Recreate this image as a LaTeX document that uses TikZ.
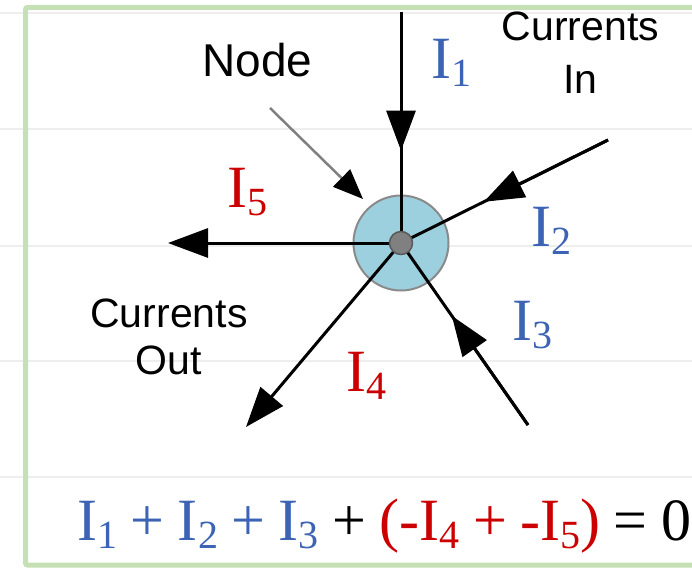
\documentclass[tikz,border=0pt]{standalone}
\usepackage{fontspec}
\setmainfont{Liberation Serif}
\newfontfamily\lsans{Liberation Sans}
\usetikzlibrary{arrows.meta,calc}
\definecolor{curblue}{HTML}{3D64B4}
\definecolor{curred}{HTML}{CC0000}
\definecolor{framegreen}{HTML}{C5E0B4}
\definecolor{gridgray}{HTML}{EEEEEE}
\definecolor{nodeblue}{HTML}{9DD0DE}
\definecolor{ringgray}{HTML}{8A8A8A}
\definecolor{dotgray}{HTML}{808080}
\newcommand\Isub[1]{I\raisebox{-8pt}{\fontsize{40}{40}\selectfont #1}}
\newcommand\eqgap{\hspace{13.5pt}}
\tikzset{
  curlbl/.style={font=\fontsize{60}{60}\selectfont, inner sep=0pt, anchor=base west},
  sanslbl/.style={font=\lsans\fontsize{41}{52}\selectfont, inner sep=0pt, align=center, anchor=base},
  wire/.style={line width=3pt, black},
  headtip/.style={-{Triangle[length=40pt,width=29pt]}},
  eqtext/.style={font=\fontsize{60}{60}\selectfont, inner sep=0pt, anchor=base west}
}
\begin{document}
\begin{tikzpicture}[x=1pt,y=-1pt]
\useasboundingbox (0,0) rectangle (692,567);
% faint background rules
\foreach \yy in {13,129,246,361,477} \draw[gridgray, line width=2pt] (0,\yy) -- (692,\yy);
% green frame (right side outside the picture)
\draw[framegreen, line width=5pt, rounded corners=2pt] (720,7.5) -- (25.5,7.5) -- (25.5,565) -- (720,565);

\coordinate (c) at (401,243);
\coordinate (s1) at (401,12);
\coordinate (s2) at (608,140);
\coordinate (s3) at (528,425);
\coordinate (e4) at (246,427);
\coordinate (e5) at (168,243);
\coordinate (np) at (270,108);
\coordinate (npt) at (363,199);

% node disc
\node[circle, draw=ringgray, line width=2pt, fill=nodeblue, minimum size=95pt, inner sep=0pt] (ring) at (c) {};

% currents in
\draw[wire] (s1) -- (c);
\draw[wire, headtip] (s1) -- ($(s1)!0.6!(c)$);
\draw[wire] (s2) -- (c);
\draw[wire, headtip] (s2) -- ($(s2)!0.6!(c)$);
\draw[wire] (s3) -- (c);
\draw[wire, headtip] (s3) -- ($(s3)!0.6!(c)$);
% currents out
\draw[wire, headtip] (c) -- (e4);
\draw[wire, headtip] (c) -- (e5);

% centre dot
\node[circle, fill=dotgray, draw=black!65, line width=1.5pt, minimum size=23pt, inner sep=0pt] (dot) at (c) {};

% pointer to node
\draw[dotgray, line width=2.5pt, -{Triangle[length=30pt,width=24pt,color=black]}] (np) -- (npt);

% labels
\node[curlbl, text=curblue] (l1) at (431,79) {\Isub{1}};
\node[curlbl, text=curred] (l5) at (227,207) {\Isub{5}};
\node[curlbl, text=curblue] (l2) at (531,246) {\Isub{2}};
\node[curlbl, text=curblue] (l3) at (512,340) {\Isub{3}};
\node[curlbl, text=curred] (l4) at (346,391) {\Isub{4}};

\node[sanslbl, font=\lsans\fontsize{46}{52}\selectfont] (nodelbl) at (257.5,77) {Node};
\node[sanslbl] (inlbl) at (580.5,93) {Currents\\In};
\node[sanslbl, font=\lsans\fontsize{41}{47}\selectfont] (outlbl) at (169,374) {Currents\\Out};

% equation
\node[eqtext] (eq) at (77,540) {\textcolor{curblue}{\Isub{1}\eqgap+\eqgap\Isub{2}\eqgap+\eqgap\Isub{3}}\eqgap+\eqgap\textcolor{curred}{(-\Isub{4}\eqgap+\eqgap-\Isub{5})}\eqgap=\eqgap0};
\end{tikzpicture}
\end{document}
